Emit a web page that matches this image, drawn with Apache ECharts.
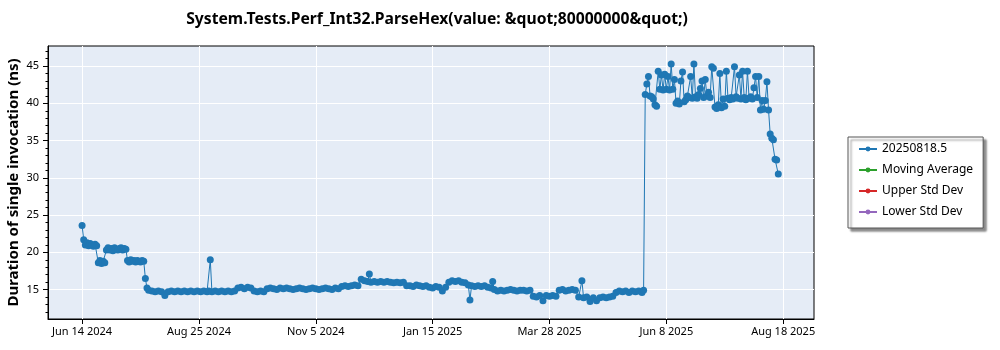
<!DOCTYPE html>
<html><head><meta charset="utf-8">
<script src="https://cdn.jsdelivr.net/npm/echarts@6/dist/echarts.min.js"></script>
<style>html,body{margin:0;padding:0;background:#fff}#c{width:1000px;height:350px}</style>
</head><body><div id="c"></div>
<script>
const startDate = '2024-06-14';
const dates = [
'2024-06-14','2024-06-15','2024-06-16','2024-06-17','2024-06-18','2024-06-19','2024-06-20','2024-06-21','2024-06-22','2024-06-23',
'2024-06-24','2024-06-25','2024-06-26','2024-06-27','2024-06-28','2024-06-29','2024-06-30','2024-07-01','2024-07-02','2024-07-03',
'2024-07-04','2024-07-05','2024-07-06','2024-07-07','2024-07-08','2024-07-09','2024-07-10','2024-07-11','2024-07-12','2024-07-13',
'2024-07-14','2024-07-15','2024-07-16','2024-07-17','2024-07-18','2024-07-19','2024-07-20','2024-07-21','2024-07-22','2024-07-23',
'2024-07-24','2024-07-25','2024-07-27','2024-07-29','2024-07-31','2024-08-02','2024-08-04','2024-08-06','2024-08-08','2024-08-10',
'2024-08-12','2024-08-14','2024-08-16','2024-08-18','2024-08-20','2024-08-22','2024-08-24','2024-08-26','2024-08-28','2024-08-30',
'2024-08-31','2024-09-01','2024-09-02','2024-09-04','2024-09-06','2024-09-08','2024-09-10','2024-09-12','2024-09-14','2024-09-16',
'2024-09-18','2024-09-20','2024-09-22','2024-09-24','2024-09-26','2024-09-28','2024-09-30','2024-10-02','2024-10-04','2024-10-06',
'2024-10-08','2024-10-10','2024-10-12','2024-10-14','2024-10-16','2024-10-18','2024-10-20','2024-10-22','2024-10-24','2024-10-26',
'2024-10-28','2024-10-30','2024-11-01','2024-11-03','2024-11-05','2024-11-07','2024-11-09','2024-11-11','2024-11-13','2024-11-15',
'2024-11-17','2024-11-19','2024-11-21','2024-11-23','2024-11-25','2024-11-27','2024-11-29','2024-12-01','2024-12-03','2024-12-05',
'2024-12-07','2024-12-08','2024-12-09','2024-12-11','2024-12-13','2024-12-15','2024-12-17','2024-12-19','2024-12-21','2024-12-23',
'2024-12-25','2024-12-27','2024-12-29','2024-12-31',
'2025-01-02','2025-01-04','2025-01-06','2025-01-08','2025-01-10','2025-01-12','2025-01-14','2025-01-16','2025-01-18','2025-01-20',
'2025-01-22','2025-01-24','2025-01-26','2025-01-28','2025-01-30','2025-02-01','2025-02-03','2025-02-05','2025-02-07','2025-02-08',
'2025-02-09','2025-02-11','2025-02-13','2025-02-15','2025-02-17','2025-02-19','2025-02-21','2025-02-22','2025-02-23','2025-02-25',
'2025-02-27','2025-03-01','2025-03-03','2025-03-05','2025-03-07','2025-03-09','2025-03-11','2025-03-13','2025-03-15','2025-03-17',
'2025-03-19','2025-03-21','2025-03-23','2025-03-25','2025-03-27','2025-03-29','2025-03-31','2025-04-02','2025-04-04','2025-04-06',
'2025-04-08','2025-04-10','2025-04-12','2025-04-14','2025-04-16','2025-04-18','2025-04-19','2025-04-21','2025-04-23','2025-04-25',
'2025-04-27','2025-04-29','2025-05-01','2025-05-03','2025-05-05','2025-05-07','2025-05-09','2025-05-11','2025-05-13','2025-05-15',
'2025-05-17','2025-05-19','2025-05-21','2025-05-23','2025-05-25','2025-05-26',
'2025-05-27','2025-05-28','2025-05-29','2025-05-30','2025-05-31','2025-06-01','2025-06-02','2025-06-03','2025-06-04','2025-06-05',
'2025-06-06','2025-06-07','2025-06-08','2025-06-09','2025-06-10','2025-06-11','2025-06-12','2025-06-13','2025-06-14','2025-06-15',
'2025-06-16','2025-06-17','2025-06-18','2025-06-19','2025-06-20','2025-06-21','2025-06-22','2025-06-23','2025-06-24','2025-06-25',
'2025-06-26','2025-06-27','2025-06-28','2025-06-29','2025-06-30','2025-07-01','2025-07-02','2025-07-03','2025-07-04','2025-07-05',
'2025-07-06','2025-07-07','2025-07-08','2025-07-09','2025-07-10','2025-07-11','2025-07-12','2025-07-13','2025-07-14','2025-07-15',
'2025-07-16','2025-07-17','2025-07-18','2025-07-19','2025-07-20','2025-07-21','2025-07-22','2025-07-23','2025-07-24','2025-07-25',
'2025-07-26','2025-07-27','2025-07-28','2025-07-29','2025-07-30','2025-07-31','2025-08-01','2025-08-02','2025-08-03','2025-08-04',
'2025-08-05','2025-08-06','2025-08-07','2025-08-08','2025-08-09','2025-08-10','2025-08-11','2025-08-12','2025-08-13','2025-08-14',
'2025-08-15','2025-08-16','2025-08-17'
];
const values = [
23.6,21.7,21.0,21.3,20.9,21.2,21.0,20.8,21.1,20.9,
18.6,18.9,18.5,18.8,18.6,20.3,20.6,20.3,20.5,20.2,
20.6,20.4,20.3,20.5,20.6,20.3,20.5,20.4,18.9,18.7,
19.0,18.8,18.9,18.7,18.9,18.8,18.7,18.9,18.8,16.5,
15.2,14.9,14.8,14.7,14.8,14.7,14.2,14.7,14.8,14.7,
14.8,14.7,14.8,14.7,14.8,14.7,14.8,14.7,14.8,14.7,
14.8,19.0,14.7,14.8,14.7,14.8,14.7,14.8,14.7,14.8,
15.2,15.3,15.1,15.3,15.2,14.8,14.7,14.8,14.7,15.1,
15.2,15.1,15.0,15.2,15.1,15.2,15.1,15.0,15.1,15.2,
15.1,15.0,15.1,15.2,15.1,15.0,15.1,15.2,15.1,15.0,
15.2,15.1,15.4,15.5,15.4,15.5,15.6,15.5,16.4,16.2,
16.1,17.1,16.0,16.1,16.0,16.1,16.0,16.1,16.0,15.9,
16.0,15.9,16.0,15.5,
15.5,15.4,15.6,15.5,15.4,15.5,15.3,15.2,15.4,15.3,
14.8,15.3,16.0,16.2,16.1,16.2,16.0,15.9,15.6,13.6,
15.5,15.4,15.5,15.4,15.5,15.3,15.2,16.1,15.0,14.8,
14.9,14.8,14.9,15.0,14.9,14.8,14.9,14.9,14.8,14.9,
14.1,14.0,14.2,13.5,14.2,14.1,14.2,14.1,14.9,15.0,
14.8,14.9,15.0,14.9,14.0,16.2,13.9,14.0,13.4,13.9,
13.5,13.9,14.0,13.9,14.0,14.1,14.6,14.8,14.7,14.8,
14.6,14.8,14.7,14.8,14.6,14.9,
41.2,42.6,43.6,41.0,40.9,40.6,39.8,39.6,44.3,41.9,
43.8,41.8,43.9,41.9,43.6,41.8,45.3,41.9,43.2,40.0,
40.3,39.9,43.0,44.2,40.2,40.5,41.0,40.8,43.6,40.7,
45.3,40.9,40.7,41.2,42.0,43.0,40.8,43.2,41.0,41.5,
40.8,44.9,44.7,39.5,39.3,39.8,44.0,39.4,40.6,39.6,
44.3,40.7,40.5,40.8,40.6,44.9,40.9,40.7,43.8,40.6,
44.3,40.8,40.5,44.3,40.7,40.9,40.6,42.1,43.6,40.8,
43.6,39.1,40.4,39.2,40.4,42.9,39.1,35.9,35.3,35.1,
32.5,32.4,30.5
];
const xTickLabels = ['Jun 14 2024','Aug 25 2024','Nov 5 2024','Jan 15 2025','Mar 28 2025','Jun 8 2025','Aug 18 2025'];
const xTickStepDays = 72;
const yMajorTicks = [15,20,25,30,35,40,45];
const yMinorTicks = [12,13,14,16,17,18,19,21,22,23,24,26,27,28,29,31,32,33,34,36,37,38,39,41,42,43,44,46,47];
const seriesNames = ['20250818.5','Moving Average','Upper Std Dev','Lower Std Dev'];
const seriesColors = ['#1f77b4','#2ca02c','#d62728','#9467bd'];
const titleText = 'System.Tests.Perf_Int32.ParseHex(value: &quot;80000000&quot;)';
const yAxisTitle = 'Duration of single invocation (ns)';

const DAY = 86400000;
const dayOffset = d => (Date.parse(d) - Date.parse(startDate)) / DAY;
const points = dates.map((d, i) => [dayOffset(d), values[i]]);
const xTickValues = xTickLabels.map((_, i) => i * xTickStepDays);

const FONT = 'Noto Sans';
const chart = echarts.init(document.getElementById('c'));
chart.setOption({
  animation: false,
  backgroundColor: '#fff',
  title: {
    text: titleText, left: 432, top: 7, textAlign: 'center',
    textStyle: { fontFamily: FONT, fontSize: 15.7, fontWeight: 'bold', color: '#000' }
  },
  legend: {
    orient: 'vertical', left: 848, top: 137,
    data: seriesNames,
    itemWidth: 18, itemHeight: 6, itemGap: 7,
    padding: [5, 10, 9, 10],
    backgroundColor: '#fff', borderColor: '#555', borderWidth: 1,
    shadowColor: 'rgba(0,0,0,0.45)', shadowBlur: 2, shadowOffsetX: 3, shadowOffsetY: 3,
    textStyle: { fontFamily: FONT, fontSize: 12, color: '#000', lineHeight: 14 }
  },
  grid: {
    left: 48, right: 186, top: 46, bottom: 31,
    outerBoundsMode: 'none', containLabel: false,
    show: true, backgroundColor: '#E5ECF6', borderColor: '#000', borderWidth: 1
  },
  xAxis: {
    type: 'value', min: -21, max: 451,
    axisLine: { show: true, onZero: false, lineStyle: { color: '#000', width: 1 } },
    axisTick: { show: true, customValues: xTickValues, length: 5, lineStyle: { color: '#000' } },
    axisLabel: {
      customValues: xTickValues, color: '#000', fontFamily: FONT, fontSize: 11, margin: 7,
      formatter: v => xTickLabels[Math.round(v / xTickStepDays)] || ''
    },
    splitLine: { show: true, lineStyle: { color: '#fff', width: 1 } }
  },
  yAxis: [{
    type: 'value', min: 11.05, max: 47.7, position: 'left',
    name: yAxisTitle, nameLocation: 'middle', nameGap: 27, nameMoveOverlap: false,
    nameTextStyle: { fontFamily: FONT, fontSize: 15, fontWeight: 'bold', color: '#000' },
    axisLine: { show: true, onZero: false, lineStyle: { color: '#000', width: 1 } },
    axisTick: { show: true, customValues: yMajorTicks, length: 5, lineStyle: { color: '#000' } },
    axisLabel: { customValues: yMajorTicks, color: '#000', fontFamily: FONT, fontSize: 11, margin: 9 },
    splitLine: { show: true, lineStyle: { color: '#fff', width: 1 } }
  }, {
    type: 'value', min: 11.05, max: 47.7, position: 'left',
    axisLine: { show: false, onZero: false },
    axisTick: { show: true, customValues: yMinorTicks, length: 2.5, lineStyle: { color: '#000' } },
    axisLabel: { show: false },
    splitLine: { show: false }
  }],
  series: [{
    name: seriesNames[0], type: 'line', data: points,
    symbol: 'circle', symbolSize: 7, showAllSymbol: true,
    color: seriesColors[0],
    lineStyle: { width: 1, color: seriesColors[0] },
    itemStyle: { color: seriesColors[0] }
  }].concat(seriesNames.slice(1).map((n, i) => ({
    name: n, type: 'line', data: [], symbol: 'circle', symbolSize: 6,
    color: seriesColors[i + 1], lineStyle: { width: 1, color: seriesColors[i + 1] },
    itemStyle: { color: seriesColors[i + 1] }
  })))
});
</script></body></html>
